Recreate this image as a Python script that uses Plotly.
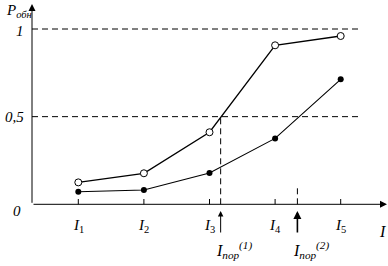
import plotly.graph_objects as go

# ---- data ----
x_pos = [1, 2, 3, 4, 5]
tick_labels = ["<i>I</i><sub>1</sub>", "<i>I</i><sub>2</sub>", "<i>I</i><sub>3</sub>",
               "<i>I</i><sub>4</sub>", "<i>I</i><sub>5</sub>"]
upper = [0.125, 0.177, 0.411, 0.907, 0.960]   # open circles
lower = [0.072, 0.082, 0.179, 0.376, 0.713]   # filled markers
thresholds = [3.17, 4.34]                     # I_пор(1), I_пор(2)
thr_labels = ["<i>I</i><sub><i>пор</i></sub><sup><i>(1)</i></sup>",
              "<i>I</i><sub><i>пор</i></sub><sup><i>(2)</i></sup>"]
y_levels = [1.0, 0.5]
y_labels = ["<i>1</i>", "<i>0,5</i>"]

# pixel -> data helpers (figure layout constants)
X0, DX = 78.3, 65.6
Y0, DY = 204.3, 175.3
def px(p):
    return 1 + (p - X0) / DX
def py(p):
    return (Y0 - p) / DY

FONT = "Times New Roman, Liberation Serif, DejaVu Serif, serif"
fig = go.Figure()

fig.add_trace(go.Scatter(x=x_pos, y=lower, mode="lines+markers",
                         line=dict(color="black", width=1.1),
                         marker=dict(symbol="circle", size=6, color="black"),
                         showlegend=False))
fig.add_trace(go.Scatter(x=x_pos, y=upper, mode="lines+markers",
                         line=dict(color="black", width=1.3),
                         marker=dict(symbol="circle", size=7, color="white",
                                     line=dict(color="black", width=1)),
                         showlegend=False))

shapes = []
x_axis = px(32)
# dashed horizontal lines
for lv in y_levels:
    shapes.append(dict(type="line", x0=x_axis, x1=px(362), y0=lv, y1=lv,
                       line=dict(color="black", width=1, dash="6px,4px")))
# dashed vertical lines at thresholds
shapes.append(dict(type="line", x0=thresholds[0], x1=thresholds[0], y0=0, y1=0.5,
                   line=dict(color="black", width=1, dash="6px,4px")))
shapes.append(dict(type="line", x0=thresholds[1], x1=thresholds[1], y0=0, y1=py(187),
                   line=dict(color="black", width=1, dash="6px,4px")))
# tick marks
for xv in x_pos:
    shapes.append(dict(type="line", x0=xv, x1=xv, y0=0, y1=py(199),
                       line=dict(color="black", width=1)))

annotations = []
# axes with arrows
annotations.append(dict(x=px(387), y=0, ax=x_axis, ay=0, xref="x", yref="y",
                        axref="x", ayref="y", text="", showarrow=True,
                        arrowhead=2, arrowsize=1.4, arrowwidth=1, arrowcolor="black"))
annotations.append(dict(x=x_axis, y=py(4), ax=x_axis, ay=0, xref="x", yref="y",
                        axref="x", ayref="y", text="", showarrow=True,
                        arrowhead=2, arrowsize=1.4, arrowwidth=1, arrowcolor="black"))
# threshold arrows
for i, t in enumerate(thresholds):
    annotations.append(dict(x=t, y=py(211), ax=t, ay=py(234), xref="x", yref="y",
                            axref="x", ayref="y", text="", showarrow=True,
                            arrowhead=2, arrowsize=1.1 if i == 0 else 1.0,
                            arrowwidth=1 if i == 0 else 1.6, arrowcolor="black"))
# threshold labels
for t, lab in zip(thresholds, thr_labels):
    annotations.append(dict(x=t + px(214) - px(220.7), y=py(250), text=lab,
                            showarrow=False, xanchor="left", yanchor="middle",
                            font=dict(family=FONT, size=16, color="black")))
# tick labels
for xv, lab in zip(x_pos, tick_labels):
    annotations.append(dict(x=xv, y=py(226), text=lab, showarrow=False,
                            xanchor="center", yanchor="middle",
                            font=dict(family=FONT, size=15, color="black")))
# y labels
for lv, lab in zip(y_levels, y_labels):
    annotations.append(dict(x=px(26), y=lv + (py(31) - 1 if lv == 1 else 0), text=lab,
                            showarrow=False, xanchor="right", yanchor="middle",
                            font=dict(family=FONT, size=15, color="black")))
annotations.append(dict(x=px(17), y=py(211), text="<i>0</i>", showarrow=False,
                        xanchor="center", yanchor="middle",
                        font=dict(family=FONT, size=15, color="black")))
# axis titles
annotations.append(dict(x=px(382), y=py(231), text="<i>I</i>", showarrow=False,
                        xanchor="center", yanchor="middle",
                        font=dict(family=FONT, size=16, color="black")))
annotations.append(dict(x=px(4), y=py(11), text="<i>P</i><sub><i>обн</i></sub>",
                        showarrow=False, xanchor="left", yanchor="middle",
                        font=dict(family=FONT, size=15, color="black")))

fig.update_layout(
    width=388, height=266,
    margin=dict(l=0, r=0, t=0, b=0, pad=0),
    paper_bgcolor="white", plot_bgcolor="white",
    xaxis=dict(range=[px(0), px(388)], visible=False, fixedrange=True),
    yaxis=dict(range=[py(266), py(0)], visible=False, fixedrange=True),
    shapes=shapes, annotations=annotations,
    showlegend=False,
)

fig.write_html("out.html")
